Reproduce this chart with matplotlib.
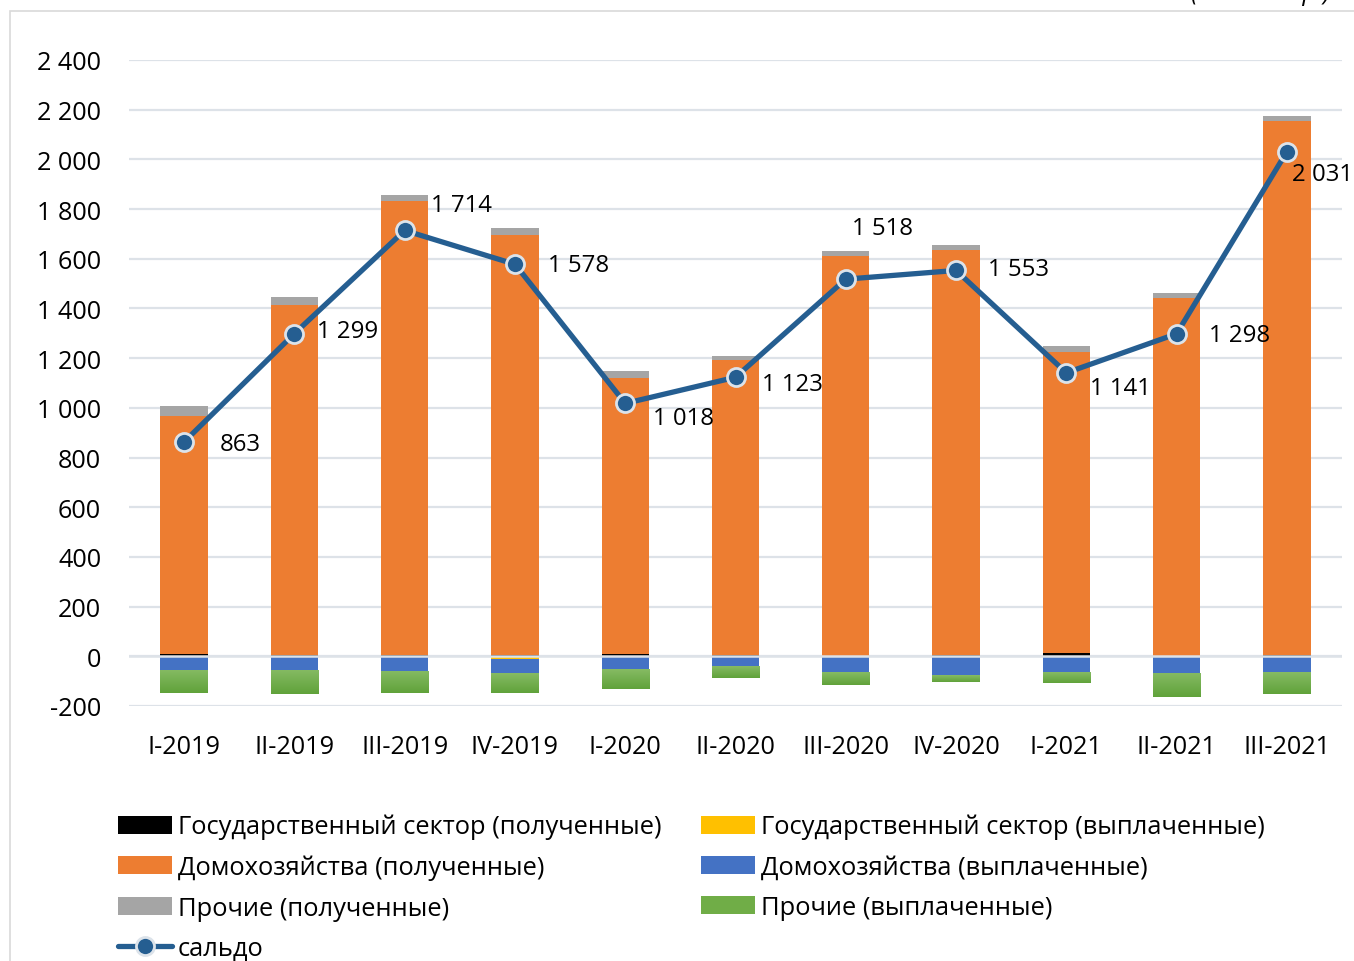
import numpy as np
import matplotlib
matplotlib.use("Agg")
import matplotlib.pyplot as plt
from matplotlib.patches import Rectangle
from matplotlib.ticker import FuncFormatter, MultipleLocator
from matplotlib.colors import LinearSegmentedColormap

plt.rcParams['font.family'] = ['Open Sans', 'Noto Sans', 'DejaVu Sans']

categories = ['I-2019', 'II-2019', 'III-2019', 'IV-2019', 'I-2020', 'II-2020',
              'III-2020', 'IV-2020', 'I-2021', 'II-2021', 'III-2021']
gov_received = [9, 5, 5, 4, 9, 4, 1, 4, 15, 1, 4]
households_received = [959, 1410, 1827, 1692, 1111, 1189, 1610, 1631, 1209, 1442, 2150]
other_received = [39, 31, 24, 28, 28, 17, 22, 22, 26, 20, 20]
gov_paid = [0, 0, 0, -12, 0, 0, 0, 0, 0, -4, 0]
households_paid = [-55, -55, -59, -54, -53, -41, -65, -77, -65, -64, -65]
other_paid = [-93, -97, -89, -80, -80, -48, -52, -28, -44, -97, -85]
saldo = [863, 1299, 1714, 1578, 1018, 1123, 1518, 1553, 1141, 1298, 2031]

labels = ['Государственный сектор (полученные)', 'Государственный сектор (выплаченные)',
          'Домохозяйства (полученные)', 'Домохозяйства (выплаченные)',
          'Прочие (полученные)', 'Прочие (выплаченные)', 'сальдо']
unit_text = '(млн. бел.р.)'

# label offsets in pixels (layout only)
label_offsets = [(36, -2), (23, 3), (26, 25), (33, -1), (28, -15), (26, -7),
                 (6, 51), (32, 1), (24, -15), (32, -1), (5, -22)]

C_BLACK = '#000000'
C_YELLOW = '#FFC000'
C_ORANGE = '#ED7D31'
C_BLUE = '#4472C4'
C_GRAY = '#A5A5A5'
C_GREEN = '#70AD47'
C_LINE = '#255E91'
C_GRID = '#DDE2E8'

W, H = 1354, 962
fig = plt.figure(figsize=(W / 100, H / 100), dpi=100)
ax = fig.add_axes([129 / W, 1 - 707 / H, (1342 - 129) / W, (707 - 61) / H])

x = np.arange(len(categories))
bw = 0.43
gr = np.array(gov_received, float)
hr = np.array(households_received, float)
orr = np.array(other_received, float)
gp = np.array(gov_paid, float)
hp = np.array(households_paid, float)
op = np.array(other_paid, float)

b1 = ax.bar(x, gr, bw, color=C_BLACK, zorder=2)
b3 = ax.bar(x, hr, bw, bottom=gr, color=C_ORANGE, zorder=2)
b5 = ax.bar(x, orr, bw, bottom=gr + hr, color=C_GRAY, zorder=2)
b2 = ax.bar(x, gp, bw, color=C_YELLOW, zorder=2)
b4 = ax.bar(x, hp, bw, bottom=gp, color=C_BLUE, zorder=2)
b6 = ax.bar(x, op, bw, bottom=gp + hp, color=C_GREEN, zorder=2)

# gradient fill for the green bars
grad = np.linspace(0, 1, 256).reshape(-1, 1)
gcmap = LinearSegmentedColormap.from_list('g', ['#86BB64', '#60A23A'])
for r in b6.patches:
    x0, y0 = r.get_x(), r.get_y()
    w, h = r.get_width(), r.get_height()
    im = ax.imshow(grad, cmap=gcmap, aspect='auto', origin='upper',
                   extent=[x0, x0 + w, min(y0, y0 + h), max(y0, y0 + h)], zorder=2.1)
    im.set_clip_path(r)
ax.set_xlim(-0.5, len(categories) - 0.5)
ax.set_ylim(-200, 2400)

ax.yaxis.set_major_locator(MultipleLocator(200))
ax.grid(axis='y', color=C_GRID, lw=1.6, zorder=0)
ax.set_axisbelow(True)
ax.axhline(0, color=C_GRID, lw=1.8, zorder=2.5)
for s in ax.spines.values():
    s.set_visible(False)
ax.tick_params(axis='both', length=0, labelsize=18.2, colors='black')
ax.tick_params(axis='y', pad=20)
ax.tick_params(axis='x', pad=20.5)
ax.yaxis.set_major_formatter(FuncFormatter(lambda v, p: f"{v:,.0f}".replace(',', ' ')))
ax.set_xticks(x)
ax.set_xticklabels(categories)

line, = ax.plot(x, saldo, color=C_LINE, lw=3.8, marker='o', ms=13,
                markerfacecolor=C_LINE, markeredgecolor='#DCE3EA', markeredgewidth=2,
                zorder=4, solid_capstyle='round')

for xi, v, (dx, dy) in zip(x, saldo, label_offsets):
    ax.annotate(f"{v:,}".replace(',', ' '), (xi, v), xytext=(dx, dy),
                textcoords='offset pixels', ha='left', va='center',
                fontsize=17.3, color='black', zorder=5)

# chart frame
fig.patches.append(Rectangle((10 / W, -0.01), 1.0, 1 - 12 / H + 0.01,
                             transform=fig.transFigure, fill=False,
                             edgecolor='#D9D9D9', lw=1.2))
fig.text(1330 / W, 1 - 6 / H, unit_text, ha='right', va='bottom',
         fontsize=18, style='italic', color='black')

handles = [b1, b3, b5, line, b2, b4, b6]
hlabels = [labels[0], labels[2], labels[4], labels[6], labels[1], labels[3], labels[5]]
leg = fig.legend(handles, hlabels, ncol=2, loc='upper left',
                 bbox_to_anchor=(118 / W, 1 - 815 / H), frameon=False,
                 fontsize=18.4, handlelength=2.1, handleheight=0.7,
                 handletextpad=0.25, columnspacing=1.55, labelspacing=0.6,
                 borderaxespad=0, borderpad=0)

fig.savefig('out.png', dpi=100)
